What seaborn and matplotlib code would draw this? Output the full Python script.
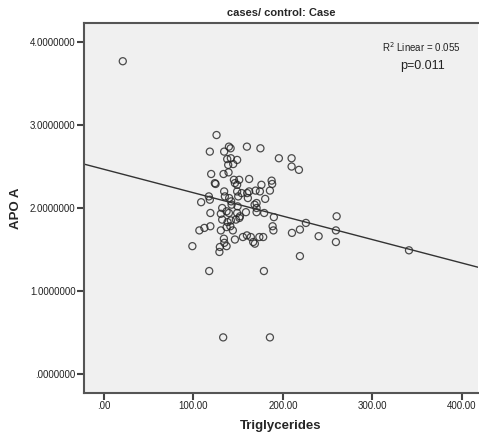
import matplotlib
matplotlib.use("Agg")
import matplotlib.pyplot as plt
import seaborn as sns
import pandas as pd

# values (Triglycerides vs APO A, cases only)
triglycerides = [
    21.2, 340.8, 125.9, 118.4, 134.4, 139.7, 141.6, 159.8, 174.9, 195.5,
    209.7, 209.7, 217.9, 137.8, 141.9, 148.9, 138.9, 144.5, 119.9, 133.7,
    139.3, 124.0, 124.8, 145.3, 151.2, 162.3, 146.4, 148.9, 176.0, 187.4,
    188.0, 185.5, 134.4, 148.9, 153.9, 160.1, 162.3, 169.5, 174.3, 117.3,
    118.4, 108.7, 135.2, 140.0, 142.2, 150.1, 160.9, 170.6, 168.4, 170.6,
    180.2, 132.2, 142.7, 149.4, 119.0, 130.7, 137.1, 139.7, 148.9, 152.0,
    158.7, 170.6, 179.1, 189.9, 132.2, 138.2, 141.9, 147.5, 151.4, 119.0,
    112.3, 106.7, 130.7, 137.1, 141.3, 144.1, 188.5, 189.4, 225.7, 260.0,
    219.0, 210.1, 239.9, 259.2, 259.2, 134.1, 134.6, 137.1, 129.6, 146.4,
    155.3, 159.8, 164.2, 166.8, 168.7, 173.7, 178.0, 98.9, 129.1, 219.0,
    117.7, 178.8, 133.3, 185.5,
]
apo_a = [
    3.77, 1.49, 2.88, 2.68, 2.68, 2.74, 2.72, 2.74, 2.72, 2.60,
    2.60, 2.50, 2.46, 2.59, 2.60, 2.58, 2.52, 2.53, 2.41, 2.41,
    2.43, 2.30, 2.29, 2.34, 2.34, 2.35, 2.30, 2.28, 2.28, 2.33,
    2.29, 2.21, 2.20, 2.20, 2.18, 2.18, 2.20, 2.21, 2.20, 2.14,
    2.10, 2.07, 2.14, 2.12, 2.08, 2.14, 2.12, 2.06, 2.04, 2.00,
    2.11, 2.00, 2.04, 2.02, 1.94, 1.93, 1.96, 1.94, 1.94, 1.90,
    1.95, 1.95, 1.94, 1.89, 1.86, 1.83, 1.85, 1.86, 1.88, 1.78,
    1.76, 1.73, 1.73, 1.77, 1.78, 1.73, 1.78, 1.73, 1.82, 1.90,
    1.74, 1.70, 1.66, 1.73, 1.59, 1.63, 1.58, 1.54, 1.53, 1.62,
    1.65, 1.67, 1.65, 1.59, 1.57, 1.65, 1.65, 1.54, 1.47, 1.42,
    1.24, 1.24, 0.44, 0.44,
]
x_ticks = [0, 100, 200, 300, 400]
y_ticks = [0, 1, 2, 3, 4]

df = pd.DataFrame({"Triglycerides": triglycerides, "APO A": apo_a})

sns.set_style("white")
plt.rcParams["font.family"] = ["Liberation Sans", "DejaVu Sans"]

fig = plt.figure(figsize=(4.79, 4.37), dpi=100)
ax = fig.add_axes([0.175, 0.101, 0.823, 0.846])
ax.set_facecolor("#f0f0f0")
# limits first so the fit line runs across the whole axis
ax.set_xlim(-22.3, 417.9)
ax.set_ylim(-0.229, 4.229)

sns.regplot(data=df, x="Triglycerides", y="APO A", ax=ax, ci=None, truncate=False,
            scatter_kws=dict(s=26, facecolors="none", edgecolors="#222222", linewidths=0.9),
            line_kws=dict(color="#333333", lw=1))

ax.set_xlim(-22.3, 417.9)
ax.set_ylim(-0.229, 4.229)
ax.set_xticks(x_ticks)
ax.set_xticklabels([".00" if v == 0 else f"{v:.2f}" for v in x_ticks])
ax.set_yticks(y_ticks)
ax.set_yticklabels([".0000000" if v == 0 else f"{v:.7f}" for v in y_ticks])
ax.tick_params(direction="out", length=5, width=1.5, color="#444444",
               labelsize=7, labelcolor="#222222", pad=1, left=True, bottom=True)

for side in ["left", "bottom", "top", "right"]:
    ax.spines[side].set_color("#555555")
    ax.spines[side].set_linewidth(1.5)
ax.spines["right"].set_visible(False)

ax.set_xlabel("Triglycerides", fontsize=9.5, fontweight="bold", labelpad=6)
ax.set_ylabel("APO A", fontsize=9.5, fontweight="bold", labelpad=6)
ax.set_title("cases/ control: Case", fontsize=8, fontweight="bold", pad=5)

ax.text(0.957, 0.935, "R$^2$ Linear = 0.055", transform=ax.transAxes,
        fontsize=7, ha="right", va="center", color="#222222")
ax.text(0.915, 0.883, "p=0.011", transform=ax.transAxes,
        fontsize=9, ha="right", va="center", color="#222222")

fig.savefig("out.png", dpi=100)
